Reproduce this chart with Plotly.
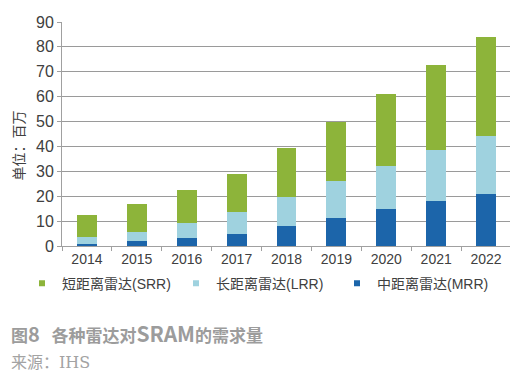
import plotly.graph_objects as go

years = ["2014", "2015", "2016", "2017", "2018", "2019", "2020", "2021", "2022"]
mrr = [1.0, 2.2, 3.3, 5.0, 8.0, 11.3, 14.7, 18.0, 20.9]
lrr = [2.5, 3.6, 6.0, 8.6, 11.8, 15.0, 17.4, 20.6, 23.2]
srr = [8.8, 10.9, 13.2, 15.4, 19.5, 23.5, 28.8, 34.1, 39.7]
y_ticks = [0, 10, 20, 30, 40, 50, 60, 70, 80, 90]

names = {"srr": "短距离雷达(SRR)", "lrr": "长距离雷达(LRR)", "mrr": "中距离雷达(MRR)"}
colors = {"srr": "#8db43a", "lrr": "#9fd2df", "mrr": "#1c65aa"}

# page has an 8px body margin, so the figure is drawn 8px smaller and offset
OFF = 8
W, H = 518 - OFF, 383 - OFF
L, R, T, B = 62 - OFF, W - (511 - OFF), 14 - OFF, H - (246 - OFF)
pw, ph = W - L - R, H - T - B

def px(xr):
    return (xr - OFF - L) / pw

def py(yr):
    return (H - B - (yr - OFF)) / ph

font = "Liberation Sans, Arial, Noto Sans CJK SC, sans-serif"
cjk = "Noto Sans CJK SC, sans-serif"

fig = go.Figure()
for key, vals in (("mrr", mrr), ("lrr", lrr), ("srr", srr)):
    fig.add_trace(go.Bar(x=years, y=vals, marker=dict(color=colors[key], line=dict(width=0)),
                         showlegend=False, name=names[key]))

legend_ids = {"srr": "legend", "lrr": "legend2", "mrr": "legend3"}
legend_text_x = {"srr": 62, "lrr": 216, "mrr": 377}
for key in ("srr", "lrr", "mrr"):
    fig.add_trace(go.Scatter(x=[None], y=[None], mode="markers", name=names[key],
                             legend=legend_ids[key],
                             marker=dict(symbol="square", size=6, color=colors[key])))

def leg(key):
    return dict(orientation="h", x=px(legend_text_x[key] - 40), y=py(285), xanchor="left",
                yanchor="middle", font=dict(family=font, size=14, color="#404040"),
                bgcolor="rgba(0,0,0,0)", itemclick=False, itemdoubleclick=False)

fig.update_layout(
    width=W, height=H, barmode="stack", bargap=0.6,
    margin=dict(l=L, r=R, t=T, b=B),
    paper_bgcolor="white", plot_bgcolor="white",
    font=dict(family=font, size=14, color="#404040"),
    legend=leg("srr"), legend2=leg("lrr"), legend3=leg("mrr"),
    xaxis=dict(showline=True, linecolor="#a0a0a0", linewidth=1, ticks="outside", tickson="boundaries",
               ticklen=4, tickcolor="#a0a0a0", showgrid=False, tickfont=dict(size=14, color="#404040")),
    yaxis=dict(range=[0, 90], tickvals=y_ticks, showline=True, linecolor="#a0a0a0", linewidth=1,
               ticks="outside", ticklen=4, tickcolor="#a0a0a0", showgrid=True, gridcolor="#9a9a9a",
               gridwidth=1, zeroline=False, ticklabeloverflow="allow",
               tickfont=dict(size=16, color="#404040")),
)

fig.add_annotation(text="单位：百万", xref="paper", yref="paper", x=px(18), y=py(142),
                   textangle=-90, showarrow=False, font=dict(family=cjk, size=14, color="#404040"),
                   xanchor="center", yanchor="middle")
fig.add_annotation(
    text="<b>图<span style='font-size:20px'>8</span>   各种雷达对<span style='font-size:21px'>SRAM</span>的需求量</b>",
    xref="paper", yref="paper", x=px(9), y=py(336),
    showarrow=False, font=dict(family=cjk, size=17, color="#9c9c9c"),
    xanchor="left", yanchor="middle")
fig.add_annotation(text="来源：IHS", xref="paper", yref="paper", x=px(9), y=py(367),
                   showarrow=False, font=dict(family="DejaVu Serif, Noto Sans CJK SC, serif", size=16, color="#a3a3a3"),
                   xanchor="left", yanchor="middle")

fig.write_html("out.html")
